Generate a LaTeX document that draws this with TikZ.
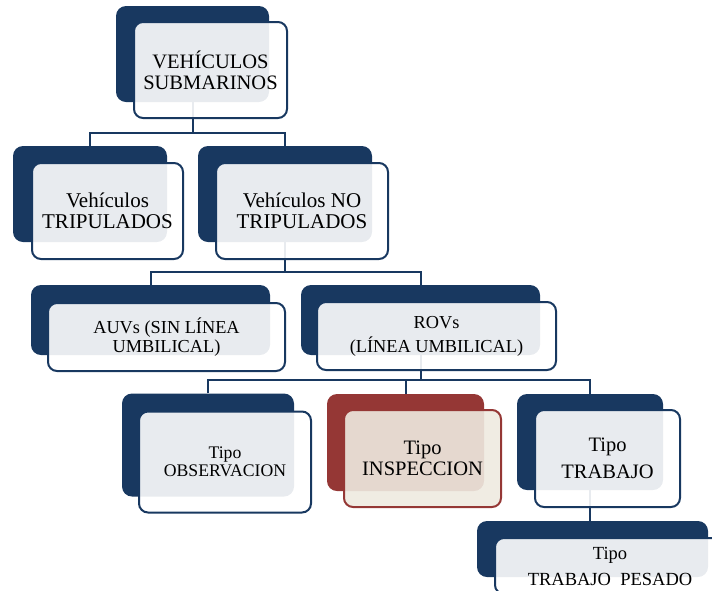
\documentclass[tikz,border=0pt]{standalone}
\usepackage{fontspec}
\setmainfont{Liberation Serif}
\definecolor{navy}{RGB}{24,56,96}
\definecolor{brick}{RGB}{149,55,53}
\definecolor{cream}{RGB}{238,234,224}
\begin{document}
\begin{tikzpicture}[x=1pt,y=-1pt,
  backbox/.style={rectangle, rounded corners=10pt, fill=navy, draw=none, inner sep=0pt},
  redback/.style={backbox, fill=brick},
  frontbox/.style={rectangle, rounded corners=9pt, draw=navy, line width=2pt,
    fill=white, fill opacity=0.9, draw opacity=1, text opacity=1, inner sep=0pt,
    align=center, text=black},
  redfront/.style={frontbox, draw=brick, fill=cream},
  conn/.style={draw=navy, line width=2pt}]
\useasboundingbox (0,0) rectangle (712,590);
\clip (0,0) rectangle (712,590);
% back boxes
\node[backbox, minimum width=153pt, minimum height=96pt] (b1) at (192.5,54) {};
\node[backbox, minimum width=154pt, minimum height=96pt] (b2a) at (90,194) {};
\node[backbox, minimum width=174pt, minimum height=96pt] (b2b) at (285,194) {};
\node[backbox, minimum width=239pt, minimum height=70pt] (b3a) at (150.5,320) {};
\node[backbox, minimum width=239pt, minimum height=70pt] (b3b) at (420.5,320) {};
\node[backbox, minimum width=172pt, minimum height=103pt] (b4a) at (208,445) {};
\node[redback, minimum width=157pt, minimum height=97pt] (b4b) at (405.5,442.5) {};
\node[backbox, minimum width=146pt, minimum height=96pt] (b4c) at (590,442) {};
\node[backbox, minimum width=231pt, minimum height=56pt] (b5) at (592.5,549) {};
% bus levels
\coordinate (bus1) at (0,133);
\coordinate (bus2) at (0,272);
\coordinate (bus3) at (0,380);
% connectors
\draw[conn] (b1.south) -- (b1.south |- bus1);
\draw[conn] (b2a.north) |- (b2b.north |- bus1) -- (b2b.north);
\draw[conn] (b2b.south) -- (b2b.south |- bus2);
\draw[conn] (b3a.north) |- (b3b.north |- bus2) -- (b3b.north);
\draw[conn] (b3b.south) -- (b3b.south |- bus3);
\draw[conn] (b4a.north) |- (b4c.north |- bus3) -- (b4c.north);
\draw[conn] (b4b.north) -- (b4b.north |- bus3);
\draw[conn] (b4c.south) -- (b4c.south |- b5.north);
% front boxes
\node[frontbox, minimum width=153pt, minimum height=96pt,
  font=\fontsize{20.5}{21}\selectfont] (f1) at (210.5,70) {VEHÍCULOS\\SUBMARINOS};
\node[frontbox, minimum width=151pt, minimum height=96pt,
  font=\fontsize{21}{21}\selectfont] (f2a) at (107.5,211) {Vehículos\\TRIPULADOS};
\node[frontbox, minimum width=172pt, minimum height=96pt,
  font=\fontsize{21}{21}\selectfont] (f2b) at (302,211) {Vehículos NO\\TRIPULADOS};
\node[frontbox, minimum width=237pt, minimum height=68pt,
  font=\fontsize{18.3}{18.5}\selectfont] (f3a) at (166.5,337) {AUVs (SIN LÍNEA\\UMBILICAL)};
\node[frontbox, minimum width=239pt, minimum height=68pt,
  font=\fontsize{18.3}{24}\selectfont] (f3b) at (436.5,336) {ROVs\\(LÍNEA UMBILICAL)};
\node[frontbox, minimum width=172pt, minimum height=101pt,
  font=\fontsize{17.7}{18}\selectfont] (f4a) at (225,462) {Tipo\\OBSERVACION};
\node[redfront, minimum width=157pt, minimum height=97pt,
  font=\fontsize{20.5}{21}\selectfont] (f4b) at (422.5,458.5) {Tipo\\INSPECCION};
\node[frontbox, minimum width=145pt, minimum height=97pt,
  font=\fontsize{20.5}{27}\selectfont] (f4c) at (607.5,458.5) {Tipo\\TRABAJO};
\node[frontbox, minimum width=230pt, minimum height=56pt,
  font=\fontsize{18.5}{26}\selectfont] (f5) at (610,566) {Tipo\\TRABAJO~ PESADO};
\end{tikzpicture}
\end{document}
